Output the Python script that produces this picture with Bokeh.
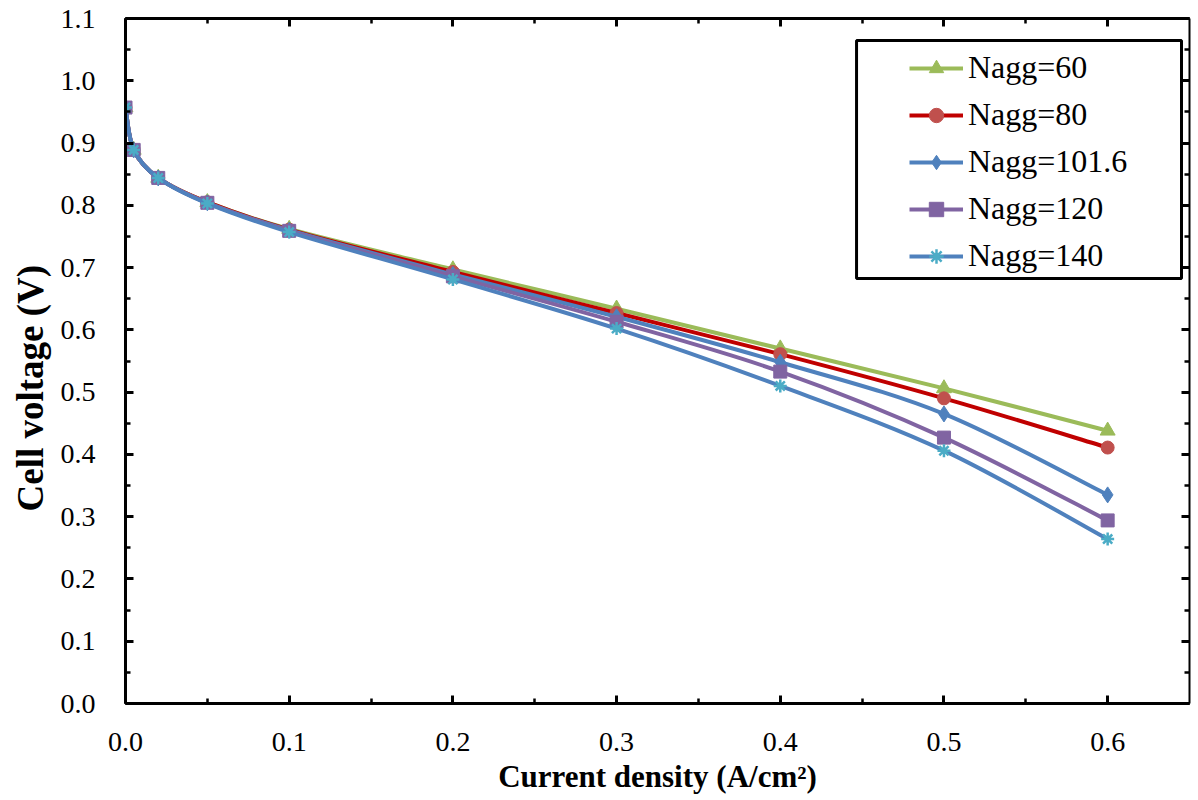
import numpy as np
from bokeh.plotting import figure
from bokeh.models import (Range1d, LinearAxis, SingleIntervalTicker, PrintfTickFormatter,
                          CustomJSTickFormatter, Legend, LegendItem, BoxAnnotation, Title)
from bokeh.embed import file_html
from bokeh.resources import INLINE

# ---- data ----
current = [0.0, 0.005, 0.02, 0.05, 0.1, 0.2, 0.3, 0.4, 0.5, 0.6]
v_60 = [0.957, 0.889, 0.844, 0.805, 0.762, 0.697, 0.634, 0.570, 0.506, 0.438]
v_80 = [0.957, 0.889, 0.844, 0.805, 0.761, 0.693, 0.627, 0.561, 0.490, 0.411]
v_101_6 = [0.957, 0.889, 0.844, 0.804, 0.760, 0.689, 0.621, 0.548, 0.465, 0.335]
v_120 = [0.957, 0.889, 0.844, 0.804, 0.759, 0.686, 0.613, 0.533, 0.427, 0.294]
v_140 = [0.957, 0.889, 0.844, 0.803, 0.757, 0.681, 0.602, 0.510, 0.406, 0.264]
labels = ["Nagg=60", "Nagg=80", "Nagg=101.6", "Nagg=120", "Nagg=140"]

FONT = "'Liberation Serif', 'Times New Roman', serif"

p = figure(frame_width=1064, frame_height=685,
           min_border_left=124, min_border_right=2, min_border_top=18, min_border_bottom=89,
           x_range=Range1d(0, 0.65), y_range=Range1d(0, 1.1),
           output_backend="svg", toolbar_location=None)
p.xgrid.visible = False
p.ygrid.visible = False
p.outline_line_color = None
p.background_fill_color = "white"
p.border_fill_color = "white"


def style_axis(ax, labels_on=True):
    ax.ticker = SingleIntervalTicker(interval=0.1, num_minor_ticks=2)
    ax.axis_line_color = "black"
    ax.axis_line_width = 3
    ax.major_tick_line_color = "black"
    ax.major_tick_line_width = 3
    ax.minor_tick_line_color = "black"
    ax.minor_tick_line_width = 2.5
    ax.major_tick_in = 8
    ax.major_tick_out = 0
    ax.minor_tick_in = 5
    ax.minor_tick_out = 0
    ax.major_label_text_font = FONT
    ax.major_label_text_color = "black"
    if labels_on:
        ax.formatter = PrintfTickFormatter(format="%.1f")
        ax.major_label_text_font_size = "28px"
    else:
        ax.formatter = CustomJSTickFormatter(code="return ''")
        ax.major_label_text_font_size = "2px"
        ax.major_label_standoff = 0


style_axis(p.xaxis[0])
style_axis(p.yaxis[0])
p.xaxis[0].major_label_standoff = 29
p.yaxis[0].major_label_standoff = 30
p.xaxis[0].axis_label = "Current density (A/cm²)"
p.xaxis[0].axis_label_text_font = FONT
p.xaxis[0].axis_label_text_font_style = "bold"
p.xaxis[0].axis_label_text_color = "black"
p.xaxis[0].axis_label_text_font_size = "31px"
p.xaxis[0].axis_label_standoff = 5

ytitle = Title(text="Cell voltage (V)", align="left", offset=192, standoff=14,
               text_font=FONT, text_font_size="37px", text_font_style="bold",
               text_color="black")
p.add_layout(ytitle, "left")

top = LinearAxis()
style_axis(top, labels_on=False)
p.add_layout(top, "above")
right = LinearAxis()
style_axis(right, labels_on=False)
right.axis_line_width = 2
p.add_layout(right, "right")


def bezier_segments(xs, ys):
    xs = np.asarray(xs, float)
    ys = np.asarray(ys, float)
    n = len(xs)
    x0, y0, x1, y1, cx0, cy0, cx1, cy1 = ([] for _ in range(8))
    for i in range(n - 1):
        ip = max(i - 1, 0)
        inx = min(i + 2, n - 1)
        x0.append(xs[i]); y0.append(ys[i])
        x1.append(xs[i + 1]); y1.append(ys[i + 1])
        cx0.append(xs[i] + (xs[i + 1] - xs[ip]) / 6.0)
        cy0.append(ys[i] + (ys[i + 1] - ys[ip]) / 6.0)
        cx1.append(xs[i + 1] - (xs[inx] - xs[i]) / 6.0)
        cy1.append(ys[i + 1] - (ys[inx] - ys[i]) / 6.0)
    return dict(x0=x0, y0=y0, x1=x1, y1=y1, cx0=cx0, cy0=cy0, cx1=cx1, cy1=cy1)


# legend background box (drawn under the legend entries)
box = BoxAnnotation(left=0.4466, right=0.6451, bottom=0.6825, top=1.0647,
                    fill_color="white", fill_alpha=1.0,
                    line_color="black", line_alpha=1.0, line_width=3)
p.add_layout(box)

series = [
    (v_60, "#9BBB59", "#9BBB59", "triangle", 15),
    (v_80, "#C00000", "#C0504D", "circle", 13),
    (v_101_6, "#4F81BD", "#4F81BD", "diamond", 16),
    (v_120, "#8064A2", "#8064A2", "square", 13),
    (v_140, "#4F81BD", "#4BACC6", "asterisk", 13),
]

items = []
for (vals, lc, mc, marker, size), lab in zip(series, labels):
    seg = bezier_segments(current, vals)
    br = p.bezier(x0=seg["x0"], y0=seg["y0"], x1=seg["x1"], y1=seg["y1"],
                  cx0=seg["cx0"], cy0=seg["cy0"], cx1=seg["cx1"], cy1=seg["cy1"],
                  line_color=lc, line_width=4)
    if marker == "asterisk":
        sr = p.scatter(current, vals, marker=marker, size=size,
                       line_color=mc, line_width=2.5, fill_color=mc)
    else:
        sr = p.scatter(current, vals, marker=marker, size=size,
                       line_color=mc, fill_color=mc)
    items.append(LegendItem(label=lab, renderers=[br, sr]))

legend = Legend(items=items, location=(784, 429),
                label_text_font=FONT, label_text_font_size="32px",
                label_text_color="black",
                glyph_width=54, glyph_height=36, label_height=36,
                label_standoff=5, spacing=10, padding=0, margin=0,
                border_line_color=None, background_fill_alpha=0.0)
p.add_layout(legend, "center")

open("out.html", "w").write(file_html(p, INLINE))
